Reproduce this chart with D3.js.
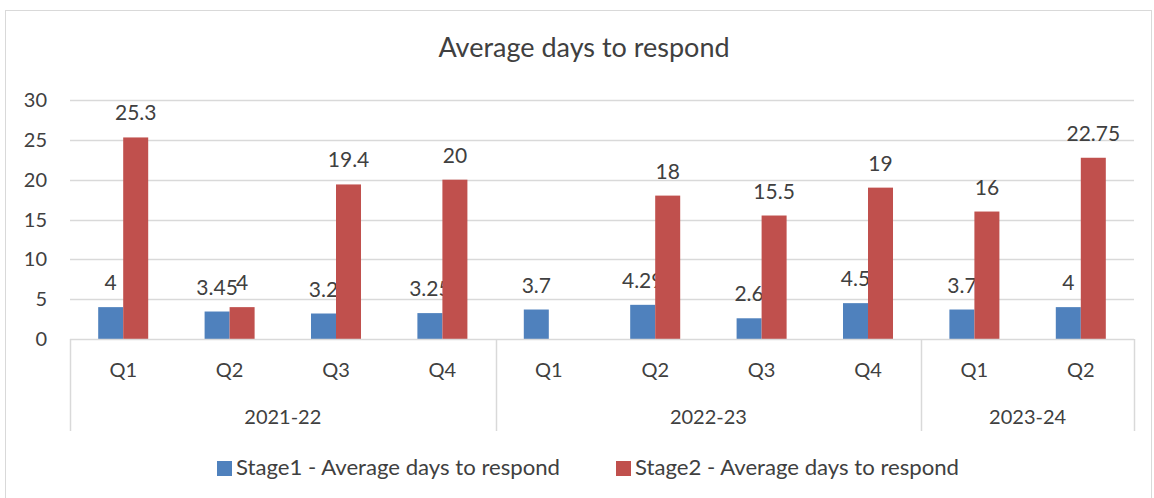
<!DOCTYPE html>
<html>
<head>
<meta charset="utf-8">
<script src="https://cdn.jsdelivr.net/npm/d3@7"></script>
<style>
  body { margin: 0; background: #fff; }
  text { font-family: Lato, 'Open Sans', sans-serif; fill: #404040; }
</style>
</head>
<body>
<div class="chart"></div>
<script>
var quarters = ['Q1', 'Q2', 'Q3', 'Q4', 'Q1', 'Q2', 'Q3', 'Q4', 'Q1', 'Q2']
var years = ['2021-22', '2021-22', '2021-22', '2021-22', '2022-23', '2022-23', '2022-23', '2022-23', '2023-24', '2023-24']
var stage1 = [4, 3.45, 3.2, 3.25, 3.7, 4.29, 2.6, 4.5, 3.7, 4]
var stage2 = [25.3, 4, 19.4, 20, null, 18, 15.5, 19, 16, 22.75]
var seriesNames = ['Stage1 - Average days to respond', 'Stage2 - Average days to respond']
var colors = ['#4F81BD', '#C0504D']
var yTicks = [0, 5, 10, 15, 20, 25, 30]

var W = 1154, H = 498
var margin = {top: 100, right: 20, bottom: 159, left: 70}
var width = 1134 - margin.left
var height = 339 - margin.top

var svg = d3.select('.chart').append('svg')
  .attr('width', W).attr('height', H)

// outer chart border
svg.append('rect')
  .attr('x', 5.5).attr('y', 10.5)
  .attr('width', W - 8).attr('height', H - 8)
  .style('fill', 'none').style('stroke', '#d9d9d9')

svg.append('text')
  .attr('x', 584).attr('y', 57)
  .attr('text-anchor', 'middle')
  .style('font-size', '27px')
  .text('Average days to respond')

var g = svg.append('g')
  .attr('transform', 'translate(' + margin.left + ',' + margin.top + ')')

var idx = d3.range(quarters.length)
var x = d3.scaleBand().domain(idx).range([0, width]).paddingInner(0).paddingOuter(0)
var y = d3.scaleLinear().domain([0, 30]).range([height, 0])

// gridlines
g.selectAll('.grid').data(yTicks.slice(1)).enter().append('line')
  .attr('x1', 0).attr('x2', width)
  .attr('y1', function(d) { return Math.round(y(d)) + 0.5 })
  .attr('y2', function(d) { return Math.round(y(d)) + 0.5 })
  .style('stroke', '#d9d9d9').style('stroke-width', 1.5)

// y tick labels
g.selectAll('.ylab').data(yTicks).enter().append('text')
  .attr('x', -23).attr('y', function(d) { return y(d) })
  .attr('dy', '0.35em')
  .attr('text-anchor', 'end')
  .style('font-size', '20px')
  .text(function(d) { return d })

// bars
var barW = x.bandwidth() * 0.235
var data = idx.map(function(i) { return {i: i, vals: [stage1[i], stage2[i]]} })
var cat = g.selectAll('.cat').data(data).enter().append('g')
  .attr('transform', function(d) { return 'translate(' + (x(d.i) + x.bandwidth() / 2) + ',0)' })

cat.each(function(d) {
  var sel = d3.select(this)
  d.vals.forEach(function(v, s) {
    if (v == null) return
    var bx = s === 0 ? -barW : 0
    sel.append('rect')
      .attr('x', bx).attr('width', barW)
      .attr('y', y(v)).attr('height', height - y(v))
      .style('fill', colors[s])
    sel.append('text')
      .attr('x', bx + barW / 2).attr('y', y(v) - 17)
      .attr('text-anchor', 'middle')
      .style('font-size', '21px')
      .text(v)
  })
})

// category axis box
var axisG = g.append('g').attr('transform', 'translate(0,' + height + ')')
axisG.append('line').attr('x1', 0).attr('x2', width).attr('y1', 0.5).attr('y2', 0.5)
  .style('stroke', '#d9d9d9').style('stroke-width', 1.5)
var groups = []
years.forEach(function(yr, i) {
  if (!groups.length || groups[groups.length - 1].name !== yr) groups.push({name: yr, start: i, end: i})
  else groups[groups.length - 1].end = i
})
var bounds = [0].concat(groups.map(function(gr) { return x(gr.end) + x.bandwidth() }))
axisG.selectAll('.sep').data(bounds).enter().append('line')
  .attr('x1', function(d) { return Math.round(d) + 0.5 })
  .attr('x2', function(d) { return Math.round(d) + 0.5 })
  .attr('y1', 0).attr('y2', 92)
  .style('stroke', '#d9d9d9').style('stroke-width', 1.5)

axisG.selectAll('.qlab').data(idx).enter().append('text')
  .attr('x', function(i) { return x(i) + x.bandwidth() / 2 })
  .attr('y', 38)
  .attr('text-anchor', 'middle')
  .style('font-size', '20px')
  .text(function(i) { return quarters[i] })

axisG.selectAll('.ylab2').data(groups).enter().append('text')
  .attr('x', function(gr) { return (x(gr.start) + x(gr.end) + x.bandwidth()) / 2 })
  .attr('y', 85)
  .attr('text-anchor', 'middle')
  .style('font-size', '20px')
  .text(function(gr) { return gr.name })

// legend
var legendX = [217, 616]
var leg = svg.selectAll('.leg').data(seriesNames).enter().append('g')
  .attr('transform', function(d, i) { return 'translate(' + legendX[i] + ',468)' })
leg.append('rect').attr('x', 0).attr('y', -7).attr('width', 15).attr('height', 15)
  .style('fill', function(d, i) { return colors[i] })
leg.append('text').attr('x', 19).attr('dy', '0.35em')
  .style('font-size', '21px')
  .attr('textLength', 324).attr('lengthAdjust', 'spacingAndGlyphs')
  .text(function(d) { return d })
</script>
</body>
</html>
